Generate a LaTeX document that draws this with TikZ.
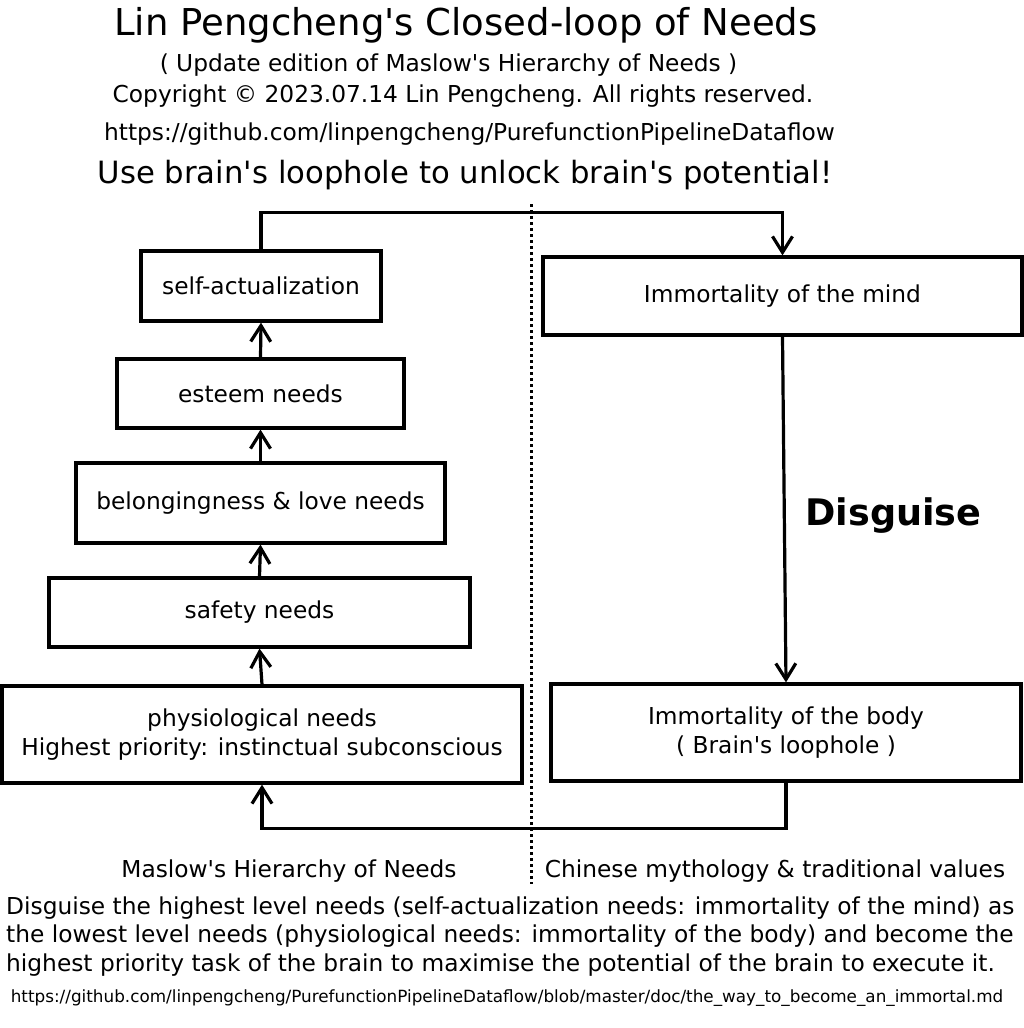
\documentclass[tikz,border=0pt]{standalone}
\usepackage{fontspec}
\setmainfont{DejaVu Sans}[Ligatures=TeXOff]
\usetikzlibrary{arrows.meta}
\tikzset{
  box/.style={draw, line width=3.2pt, inner sep=0pt, align=center, font=\fontsize{23.3}{29}\selectfont},
  conn/.style={line width=3.2pt, -{Straight Barb[length=16pt,width=20pt,line width=3.2pt]}},
  sep/.style={line width=3pt, dash pattern=on 3pt off 3pt},
  txt/.style={inner sep=0pt, anchor=base},
  para/.style={inner sep=0pt, anchor=base west, font=\fontsize{23.3}{28}\selectfont},
}
\begin{document}
\begin{tikzpicture}[x=1pt,y=-1pt]
\useasboundingbox[fill=white] (0,0) rectangle (1024,1028);
% header texts
\node[txt, font=\fontsize{37}{40}\selectfont] (title) at (466,35) {Lin Pengcheng's Closed-loop of Needs};
\node[txt, font=\fontsize{23.3}{28}\selectfont] (sub) at (448.5,71) {( Update edition of Maslow's Hierarchy of Needs )};
\node[txt, font=\fontsize{23.3}{28}\selectfont] (copy) at (463,102) {Copyright © 2023.07.14 Lin Pengcheng. All rights reserved.};
\node[txt, font=\fontsize{23.3}{28}\selectfont] (url) at (469.5,140) {https://github.com/linpengcheng/PurefunctionPipelineDataflow};
\node[txt, font=\fontsize{30.7}{34}\selectfont] (slogan) at (465,183) {Use brain's loophole to unlock brain's potential!};
% left boxes
\node[box, minimum width=240pt, minimum height=70pt] (sa) at (261,286) {self-actualization};
\node[box, minimum width=287pt, minimum height=69pt] (es) at (260.5,393.5) {esteem needs};
\node[box, minimum width=369pt, minimum height=80pt] (bl) at (260.5,503) {belongingness \& love needs};
\node[box, minimum width=421pt, minimum height=69pt] (sf) at (259.5,612.5) {safety needs};
\node[box, minimum width=520pt, minimum height=97pt] (ph) at (262,734.5) {physiological needs\\Highest priority: instinctual subconscious};
% right boxes
\node[box, minimum width=479pt, minimum height=78pt] (mind) at (782.5,296) {Immortality of the mind};
\node[box, minimum width=470pt, minimum height=97pt] (body) at (786,732.5) {Immortality of the body\\( Brain's loophole )};
% separator
\coordinate (septop) at (531,204);
\coordinate (sepbot) at (531,884);
\draw[sep] (septop) -- (sepbot);
% connectors
\draw[conn] (ph.north) -- (sf.south);
\draw[conn] (sf.north) -- (bl.south);
\draw[conn] (bl.north) -- (es.south);
\draw[conn] (es.north) -- (sa.south);
\draw[conn] (sa.north) -- ++(0,-37) -| (mind.north);
\draw[conn] (mind.south) -- (body.north);
\draw[conn] (body.south) -- ++(0,46) -| (ph.south);
% disguise label
\node[txt, font=\fontsize{36.6}{40}\selectfont\bfseries] (dis) at (893.5,525) {Disguise};
% bottom labels
\node[txt, font=\fontsize{23.3}{28}\selectfont] (lab1) at (289,877) {Maslow's Hierarchy of Needs};
\node[txt, font=\fontsize{23.3}{28}\selectfont] (lab2) at (775,877) {Chinese mythology \& traditional values};
\node[para] (p1) at (6,914) {Disguise the highest level needs (self-actualization needs: immortality of the mind) as};
\node[para] (p2) at (6,942.5) {the lowest level needs (physiological needs: immortality of the body) and become the};
\node[para] (p3) at (6,971) {highest priority task of the brain to maximise the potential of the brain to execute it.};
\node[txt, font=\fontsize{16.8}{20}\selectfont] (url2) at (507,1002) {https://github.com/linpengcheng/PurefunctionPipelineDataflow/blob/master/doc/the\_way\_to\_become\_an\_immortal.md};
\end{tikzpicture}
\end{document}
